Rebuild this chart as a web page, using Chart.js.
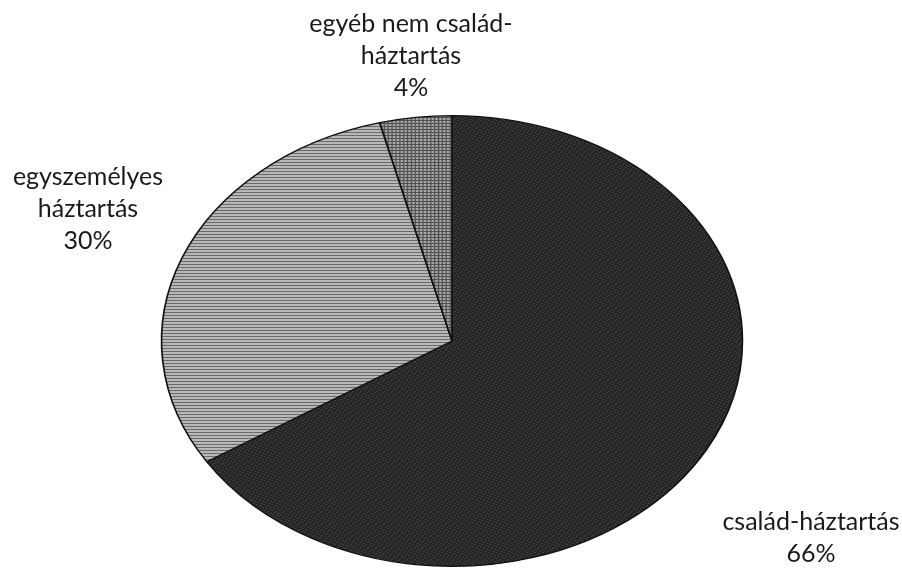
<html>
<head>
    <meta charset="utf-8">
    <title>Háztartások</title>
    <script src="https://cdn.jsdelivr.net/npm/chart.js"></script>
    <style>
        body {
            margin: 0;
            background: #ffffff;
            font-family: Lato, "Open Sans", sans-serif;
        }
        .wrap {
            position: relative;
            width: 902px;
            height: 578px;
        }
        .lbl {
            position: absolute;
            font-size: 25px;
            line-height: 32px;
            color: #1a1a1a;
            text-align: center;
            white-space: nowrap;
            transform: translateX(-50%);
        }
    </style>
</head>
<body>
    <div class="wrap">
        <canvas id="pie" width="902" height="578"></canvas>
        <div class="lbl" id="l2" style="left:411px; top:6px;"></div>
        <div class="lbl" id="l1" style="left:88px; top:159px;"></div>
        <div class="lbl" id="l0" style="left:811px; top:504px;"></div>
    </div>
    <script>
        const categories = ['család-háztartás', 'egyszemélyes háztartás', 'egyéb nem család-háztartás'];
        const labelLines = [['család-háztartás'], ['egyszemélyes', 'háztartás'], ['egyéb nem család-', 'háztartás']];
        const shares = [66, 30, 4];

        // labels as html text
        shares.forEach((v, i) => {
            document.getElementById('l' + i).innerHTML = labelLines[i].concat([v + '%']).join('<br>');
        });

        function makePattern(w, h, draw) {
            const c = document.createElement('canvas');
            c.width = w;
            c.height = h;
            const g = c.getContext('2d');
            draw(g);
            return g.createPattern(c, 'repeat');
        }

        // speckled dark grey
        const darkFill = makePattern(6, 6, g => {
            g.fillStyle = '#262626';
            g.fillRect(0, 0, 6, 6);
            g.fillStyle = '#4c4c4c';
            [[0, 0], [3, 1], [5, 3], [1, 4], [4, 5], [2, 2]].forEach(p => g.fillRect(p[0], p[1], 1, 1));
        });
        // horizontal hatching
        const lineFill = makePattern(4, 3, g => {
            g.fillStyle = '#b8b8b8';
            g.fillRect(0, 0, 4, 3);
            g.fillStyle = '#6a6a6a';
            g.fillRect(0, 0, 4, 1);
        });
        // fine grid
        const gridFill = makePattern(3, 3, g => {
            g.fillStyle = '#a8a8a8';
            g.fillRect(0, 0, 3, 3);
            g.fillStyle = '#505050';
            g.fillRect(0, 0, 3, 1);
            g.fillRect(0, 0, 1, 3);
        });

        // stretch the round pie into an ellipse
        const ellipse = {
            id: 'ellipse',
            beforeDatasetsDraw(chart) {
                const a = chart.chartArea;
                const cx = (a.left + a.right) / 2;
                const cy = (a.top + a.bottom) / 2;
                const ctx = chart.ctx;
                ctx.save();
                ctx.translate(cx, cy);
                ctx.scale(290 / 225, 1);
                ctx.translate(-cx, -cy);
            },
            afterDatasetsDraw(chart) {
                chart.ctx.restore();
            }
        };

        new Chart(document.getElementById('pie'), {
            type: 'pie',
            data: {
                labels: categories,
                datasets: [{
                    data: shares,
                    backgroundColor: [darkFill, lineFill, gridFill],
                    borderColor: '#111111',
                    borderWidth: 1.3
                }]
            },
            options: {
                responsive: false,
                animation: false,
                events: [],
                layout: {
                    padding: { top: 115, bottom: 11, left: 226, right: 224 }
                },
                plugins: {
                    legend: { display: false },
                    tooltip: { enabled: false }
                }
            },
            plugins: [ellipse]
        });
    </script>
</body>
</html>
